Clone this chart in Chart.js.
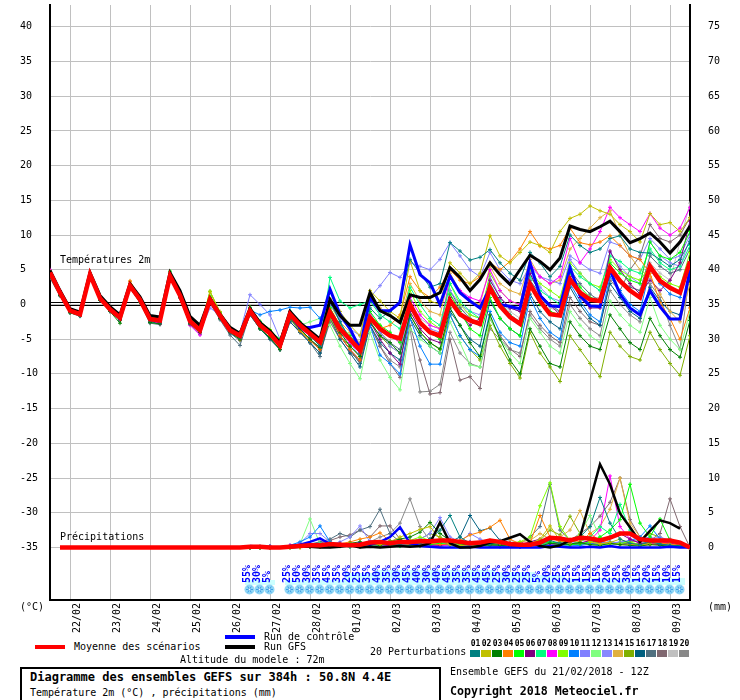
<!DOCTYPE html>
<html><head><meta charset="utf-8">
<script src="https://cdn.jsdelivr.net/npm/chart.js@4.4.1/dist/chart.umd.min.js"></script>
<style>
html,body{margin:0;padding:0;background:#fff;}
#wrap{position:relative;width:740px;height:700px;overflow:hidden;font-family:"DejaVu Sans Mono",monospace;font-size:10px;color:#000;background:#fff;}
#c{position:absolute;left:0;top:0;}
.t{position:absolute;white-space:pre;line-height:1;transform:translateY(-50%);}
.sw{position:absolute;}
</style></head><body>
<div id="wrap">
<canvas id="c" width="740" height="640"></canvas>
<div class="t" style="left:20px;top:607px">(°C)</div>
<div class="t" style="left:708px;top:607px">(mm)</div>
<div class="sw" style="left:35px;top:645px;width:30px;height:4px;background:#f00"></div>
<div class="t" style="left:74px;top:647px">Moyenne des scénarios</div>
<div class="sw" style="left:225px;top:635px;width:30px;height:4px;background:#00f"></div>
<div class="t" style="left:264px;top:637px">Run de contrôle</div>
<div class="sw" style="left:225px;top:645px;width:30px;height:4px;background:#000"></div>
<div class="t" style="left:264px;top:647px">Run GFS</div>
<div class="t" style="left:180px;top:660px">Altitude du modele : 72m</div>
<div class="t" style="left:370px;top:652px">20 Perturbations</div>
<div id="legbox"></div>
<div class="sw" style="left:20px;top:667px;width:417px;height:32px;border:2px solid #000;border-bottom:none"></div>
<div class="t" style="left:30px;top:677px;font-weight:bold;font-size:12px">Diagramme des ensembles GEFS sur 384h : 50.8N 4.4E</div>
<div class="t" style="left:30px;top:693px">Température 2m (°C) , précipitations (mm)</div>
<div class="t" style="left:450px;top:672px">Ensemble GEFS du 21/02/2018 - 12Z</div>
<div class="t" style="left:450px;top:692px;font-weight:bold;font-size:11.6px">Copyright 2018 Meteociel.fr</div>
</div>
<script>
// ---------- DATA ----------
const dayLabels = ['22/02','23/02','24/02','25/02','26/02','27/02','28/02','01/03','02/03','03/03','04/03','05/03','06/03','07/03','08/03','09/03'];
const dayTickSteps = [2,6,10,14,18,22,26,30,34,38,42,46,50,54,58,62];
const tempTicks = [-35,-30,-25,-20,-15,-10,-5,0,5,10,15,20,25,30,35,40];
const precipTicks = [0,5,10,15,20,25,30,35,40,45,50,55,60,65,70,75];
const memberNames = ['01','02','03','04','05','06','07','08','09','10','11','12','13','14','15','16','17','18','19','20'];

const tempMean = [4.6,1.7,-0.9,-1.4,4.3,0.9,-0.7,-1.9,2.7,0.7,-2.1,-2.3,4.1,1.3,-2.4,-3.7,0.7,-1.6,-3.7,-4.5,
 -0.9,-3.0,-4.2,-5.9, -1.4,-3.0,-4.2,-5.4, -1.1,-3.5,-5.0,-6.6, -1.9,-3.5,-4.5,-4.9, 0.0,-2.6,-4.0,-4.5, 0.6,-1.4,-2.3,-2.8, 2.4,-0.2,-1.8,-2.8, 2.9,0.5,-1.4,-1.6, 3.6,1.7,0.7,0.5, 5.3,3.4,2.0,1.0, 5.5,3.4,2.4,1.7, 6.2];
const tempControl = [4.5,1.7,-0.9,-1.4,4.4,0.9,-0.7,-1.9,2.7,0.7,-2.1,-2.3,4.1,1.3,-2.4,-3.7,0.7,-1.6,-3.7,-4.5,
 -0.8,-3.0,-4.0,-5.5, -1.5,-3.3,-3.3,-3.0, 2.2,-1.4,-3.5,-6.4, 1.0,-0.9,-0.9,0.3, 8.6,4.3,3.1,0.0, 4.1,1.7,0.5,-0.5, 2.4,0.0,-0.3,-0.6, 6.0,1.3,-0.2,-0.3, 5.3,1.3,-0.2,-0.3, 5.0,1.5,-0.5,-1.5, 2.0,-0.3,-2.1,-2.1, 5.0];
const tempGFS = [4.9,2.0,-0.6,-1.1,4.6,1.3,-0.3,-1.5,3.0,1.1,-1.6,-1.8,4.6,2.0,-1.7,-3.0,0.9,-1.4,-3.3,-4.2,
 -0.6,-2.6,-3.8,-5.5, -1.0,-2.6,-3.8,-5.0, 0.7,-1.6,-3.0,-3.0, 1.7,-0.9,-1.6,-2.6, 1.4,1.0,1.0,1.7, 5.3,3.9,2.0,3.6, 6.0,4.3,2.9,5.0, 7.1,6.2,5.0,6.7, 11.3,10.8,10.5,11.2, 12.0,10.5,8.9,9.5, 10.3,9.0,7.4,9.0, 11.3];

const t01 = [4.2,1.5,-1.0,-1.6,4.4,0.8,-0.9,-2.0,2.5,0.6,-2.3,-2.5,4.0,1.1,-2.6,-3.9,0.5,-1.8,-3.9,-4.8,
 -0.5,-2.5,-4.0,-5.2, -1.0,-2.8,-4.5,-6.0, 0.5,-2.5,-5.0,-7.0, -0.5,-2.0,-1.0,0.5, 6.5,4.5,2.5,3.0, 8.9,7.7,6.4,6.8, 7.9,6.0,4.5,3.5, 7.5,6.0,4.0,5.5, 10.0,8.5,7.5,8.0, 9.5,9.9,8.0,7.5, 7.4,6.5,5.5,6.5, 9.1];
const t02 = [4.8,1.9,-0.8,-1.3,4.5,1.1,-0.5,-1.7,3.0,0.9,-1.9,-2.1,4.3,1.6,-2.1,-3.4,1.8,-1.0,-3.3,-4.2,
 -0.8,-2.8,-4.0,-5.6, -1.2,-2.8,-4.0,-5.2, 0.8,-1.0,-3.0,-4.5, 2.0,0.5,-1.0,-2.0, 6.3,2.0,0.5,0.0, 6.0,4.5,3.0,4.5, 9.9,7.0,6.0,7.5, 9.0,8.5,7.5,10.5, 12.4,13.0,14.2,13.5, 13.0,11.5,10.5,9.0, 13.1,11.5,11.8,10.5, 12.5];
const t03 = [4.0,1.3,-1.2,-1.6,4.1,0.6,-1.0,-2.7,2.4,0.3,-2.6,-2.8,3.8,1.0,-2.8,-4.0,0.4,-2.0,-4.0,-5.0,
 -1.2,-3.5,-4.8,-6.5, -2.0,-3.5,-5.0,-6.2, -1.5,-4.0,-6.0,-7.5, -2.5,-4.5,-5.5,-7.0, -1.5,-4.0,-5.5,-6.4, -0.5,-3.0,-5.5,-7.5, -1.5,-5.0,-8.0,-10.0, -3.5,-6.0,-8.5,-9.0, -2.5,-4.5,-6.0,-6.5, -1.5,-3.5,-5.5,-6.5, -2.0,-4.5,-6.5,-7.6, -2.3];
const t04 = [4.5,1.7,-0.9,-1.5,4.3,0.9,-0.8,-2.0,3.4,1.0,-2.0,-2.4,4.2,1.2,-2.5,-3.8,0.6,-1.7,-3.9,-5.1,
 -1.0,-3.0,-4.5,-6.0, -1.5,-3.8,-5.2,-6.5, -1.0,-4.5,-6.5,-8.0, -2.0,-3.5,-3.0,-1.5, 4.0,2.0,1.0,2.5, 5.0,3.5,3.0,4.0, 6.0,5.0,6.2,8.0, 10.5,8.4,8.0,8.5, 11.0,8.9,8.6,9.0, 9.9,8.5,7.0,6.5, 4.5,0.3,-2.0,-5.0, -0.5];
const t05 = [4.7,1.8,-0.8,-1.3,4.4,1.0,-0.6,-1.8,2.8,0.8,-1.9,-2.0,4.8,1.7,-2.0,-3.2,1.2,-1.2,-3.4,-4.0,
 -0.5,-2.5,-3.8,-5.0, -1.0,-2.5,-4.0,-5.5, -0.5,-3.0,-4.5,-6.0, -1.0,-3.0,-4.0,-5.5, 0.5,-2.5,-4.0,-5.0, 1.5,-1.0,-3.5,-4.5, 1.0,-2.0,-3.5,-4.5, 3.0,0.0,-1.0,-1.5, 4.5,2.5,1.0,0.5, 6.0,4.5,3.5,3.0, 9.0,7.0,6.5,7.5, 10.5];
const t06 = [4.4,1.6,-1.0,-1.5,4.2,0.8,-0.8,-2.1,2.6,0.6,-2.3,-2.6,4.0,1.1,-2.6,-4.0,0.6,-1.8,-3.9,-4.7,
 -1.0,-3.2,-4.5,-6.0, -1.8,-3.5,-5.0,-6.5, -1.5,-4.5,-6.5,-8.0, -2.5,-5.0,-7.0,-8.6, -1.0,-3.5,-5.0,-5.5, 1.0,-1.5,-3.0,-2.0, 3.5,1.0,-0.5,-1.0, 4.5,1.5,0.0,-1.5, 4.0,1.0,-0.5,-0.5, 7.7,5.0,3.0,1.5, 3.5,2.0,3.5,6.0, 12.0];
const t07 = [4.6,1.8,-0.8,-1.2,4.4,1.0,-0.6,-1.7,2.9,0.9,-1.8,-2.0,4.5,1.5,-2.2,-3.5,1.0,-1.4,-3.5,-4.3,
 -0.6,-2.7,-4.0,-5.5, -1.0,-3.0,-4.0,-5.5, 3.9,0.5,-0.5,0.0, 0.5,-1.5,-2.5,-3.5, 2.5,0.0,-2.0,-3.0, 3.0,0.5,-1.0,-2.0, 3.0,0.5,-1.5,-2.5, 4.0,2.0,1.0,0.0, 5.5,4.0,3.0,2.0, 7.0,6.2,5.0,4.5, 8.0,6.0,5.0,5.5, 8.5];
const t08 = [5.0,2.0,-0.7,-1.3,4.2,0.7,-0.9,-2.0,2.8,0.5,-2.2,-2.8,4.0,1.0,-3.0,-4.4,0.3,-1.9,-4.0,-4.6,
 -1.0,-3.0,-4.5,-6.0, -1.5,-3.5,-4.5,-6.0, -1.5,-4.0,-5.5,-7.0, -1.5,-3.5,-4.5,-5.5, 1.0,-1.5,-3.0,-3.5, 4.0,2.0,1.0,0.5, 5.0,2.0,0.5,0.0, 6.0,4.0,3.0,4.0, 9.5,6.0,8.0,10.5, 14.0,12.5,11.5,10.5, 13.1,11.0,10.0,11.0, 14.0];
const t09 = [4.6,1.7,-0.9,-1.4,4.5,1.0,-0.6,-1.8,3.0,0.8,-2.0,-2.2,4.3,1.4,-2.2,-3.5,1.9,-1.2,-3.5,-4.3,
 -0.4,-2.4,-3.6,-5.2, -1.2,-3.0,-4.5,-6.0, -0.5,-3.5,-5.0,-6.5, -1.5,-3.0,-4.5,-5.0, 2.0,-1.0,-2.5,-3.5, 3.0,0.0,-1.5,-2.0, 4.5,2.0,0.5,0.0, 5.0,3.0,2.0,1.0, 6.0,4.5,3.0,2.5, 6.5,5.0,4.0,3.5, 5.5,4.0,3.0,2.5, 7.5];
const t10 = [4.3,1.5,-1.0,-1.5,4.2,0.8,-0.8,-2.0,2.6,0.6,-2.2,-2.4,4.0,1.2,-2.5,-3.8,0.5,-1.6,-3.8,-4.4,
 -0.8,-1.5,-1.0,-0.8, -0.4,-0.5,-0.4,-2.0, 0.5,-2.5,-5.0,-7.0, -3.0,-7.3,-8.5,-10.0, -2.0,-6.0,-8.6,-8.6, -1.5,-4.5,-6.5,-7.5, -1.0,-4.0,-5.5,-6.0, 1.0,-2.0,-4.0,-5.0, 3.0,0.5,-1.5,-2.5, 4.0,2.0,0.0,-1.0, 5.0,3.0,1.5,1.0, 6.0];
const t11 = [4.5,1.6,-0.9,-1.4,4.3,0.9,-0.7,-1.9,2.5,0.5,-2.2,-2.5,4.1,1.2,-2.5,-3.9,-0.5,-1.5,-3.6,-4.0,
 1.4,0.0,-1.5,-5.0, -1.5,-3.0,-4.0,-5.5, 0.0,-2.0,-3.5,-4.5, 1.0,2.7,4.6,3.9, 6.0,5.5,5.0,6.5, 8.9,7.0,5.0,4.0, 7.5,5.0,3.5,3.0, 5.5,4.0,3.5,3.0, 7.0,6.0,5.0,4.5, 9.0,8.5,7.0,6.5, 9.5,8.0,6.5,7.0, 10.0];
const t12 = [4.8,1.8,-0.8,-1.3,4.4,1.0,-0.6,-1.8,2.8,0.8,-2.0,-2.2,4.2,1.4,-2.3,-3.6,0.8,-1.5,-3.6,-4.4,
 -1.0,-3.0,-4.5,-6.0, -1.5,-3.0,-2.5,-2.0, -3.0,-6.0,-8.5,-10.7, -4.0,-8.0,-10.5,-12.3, -3.5,-5.0,-6.0,-7.0, -2.5,-5.5,-8.7,-9.0, -2.0,-5.0,-7.0,-8.5, -2.0,-4.0,-6.0,-7.0, -1.0,-3.0,-4.5,-5.5, 0.5,-1.5,-3.0,-4.0, 1.0,-3.0,-5.0,-6.5, -1.0];
const t13 = [4.4,1.6,-1.0,-1.5,4.3,0.8,-0.8,-2.0,2.6,0.6,-2.1,-2.3,4.1,1.3,-2.4,-3.7,0.7,-1.6,-3.7,-4.5,
 -0.8,-3.0,-4.2,-5.8, -1.2,-3.2,-4.5,-6.0, -1.0,-3.0,-5.5,-7.5, -1.0,-4.0,-6.0,-7.0, -0.5,-3.0,-3.5,-4.0, 2.0,0.0,-1.0,-1.5, 4.0,1.0,-0.5,-1.0, 4.5,2.5,1.0,0.5, 6.5,4.5,3.0,2.0, 7.5,5.5,4.0,3.0, 9.0,7.0,6.0,5.5, 9.5];
const t14 = [4.6,1.7,-0.9,-1.4,4.4,0.9,-0.7,-1.9,3.3,0.9,-2.0,-2.2,4.4,1.5,-2.2,-3.5,0.9,-1.4,-3.5,-4.3,
 -0.7,-2.8,-4.0,-5.5, -1.0,-3.0,-4.5,-5.8, 0.0,-2.5,-4.0,-5.5, 1.0,-0.5,-1.5,-2.5, 3.0,0.5,-1.0,-1.5, 4.5,2.0,0.5,0.0, 5.5,3.0,2.0,1.5, 6.5,4.0,3.0,3.5, 8.0,9.5,11.0,12.5, 13.5,10.0,7.0,5.0, 4.0,1.5,-1.0,-2.5, 3.0];
const t15 = [4.5,1.7,-0.9,-1.5,4.3,0.9,-0.8,-2.0,2.7,0.7,-2.0,-2.3,4.2,1.3,-2.4,-3.6,1.9,-1.3,-3.6,-4.6,
 -1.2,-3.2,-4.5,-6.2, -2.0,-3.8,-5.0,-6.5, -2.0,-4.5,-6.0,-7.5, -2.5,-4.5,-6.0,-7.0, -1.5,-4.0,-5.5,-6.5, -1.5,-4.5,-6.5,-8.0, -3.0,-6.0,-8.5,-10.6, -4.0,-7.0,-9.0,-11.1, -4.5,-6.5,-8.5,-10.4, -4.0,-6.0,-7.5,-8.0, -4.0,-6.5,-8.5,-10.2, -4.5];
const t16 = [4.1,1.4,-1.1,-1.6,4.1,0.7,-0.9,-2.2,2.4,0.4,-2.5,-2.7,3.9,1.0,-2.7,-4.1,0.3,-2.0,-4.1,-5.2,
 -1.5,-3.5,-5.0,-6.5, -2.5,-4.0,-5.5,-7.0, -2.0,-5.0,-7.0,-9.0, -3.0,-5.5,-7.0,-8.0, -2.0,-4.5,-6.0,-7.0, -1.0,-3.0,-5.0,-6.0, 0.5,-2.0,-3.5,-4.5, 1.5,-1.0,-2.5,-3.5, 2.5,0.0,-2.0,-3.0, 3.0,1.0,-1.0,-2.0, 2.5,0.5,-1.0,-1.5, 4.0];
const t17 = [3.8,1.2,-1.2,-1.7,4.0,0.6,-1.0,-2.3,2.3,0.3,-2.7,-2.9,3.8,0.9,-2.9,-4.3,0.2,-2.2,-4.4,-5.9,
 -1.3,-3.5,-4.8,-6.5, -2.0,-4.0,-5.5,-7.5, -1.5,-4.5,-6.5,-8.5, -2.0,-4.0,-5.5,-6.5, 0.5,-2.5,-4.0,-5.0, 2.0,-0.5,-2.0,-3.0, 2.5,0.0,-1.5,-2.5, 3.5,1.5,0.0,-1.0, 5.0,3.0,1.5,0.5, 5.5,3.5,2.5,2.0, 7.0,5.5,4.5,5.0, 8.0];
const t18 = [4.2,1.4,-1.1,-1.6,4.1,0.7,-0.9,-2.2,2.4,0.4,-2.4,-2.6,3.9,1.0,-2.7,-4.0,0.4,-1.9,-4.0,-5.0,
 -1.5,-3.5,-5.0,-6.5, -2.5,-4.0,-5.5,-7.0, -2.5,-5.0,-7.0,-8.0, -3.0,-6.0,-8.5,-10.5, -3.0,-8.0,-12.9,-12.7, -5.0,-10.9,-10.4,-12.1, -2.1,-4.5,-6.4,-7.5, -1.0,-3.0,-4.5,-5.5, 1.0,-1.0,-2.5,-3.0, 3.5,2.0,5.0,7.0, 11.5,9.5,9.0,10.0, 12.5];
const t19 = [4.6,1.7,-0.9,-1.4,4.3,0.9,-0.7,-1.9,2.7,0.7,-2.1,-2.3,4.1,1.3,-2.4,-3.7,0.7,-1.6,-3.7,-4.5,
 -0.9,-3.0,-4.3,-5.9, -1.4,-3.0,-4.2,-5.4, -1.0,-3.5,-5.0,-6.5, -1.5,-3.5,-4.5,-5.0, 0.5,-2.0,-3.0,-3.5, 1.5,-0.5,-1.5,-2.0, 3.0,0.5,-1.0,-2.0, 3.5,1.0,-0.5,-1.0, 4.0,2.0,1.0,1.0, 5.5,3.5,2.5,2.0, 6.0,4.5,3.5,9.0, 14.6];
const t20 = [4.3,1.5,-1.0,-1.5,4.2,0.8,-0.8,-2.1,2.5,0.5,-2.3,-2.5,4.0,1.1,-2.6,-3.9,0.5,-1.8,-3.9,-4.8,
 -1.0,-3.0,-4.5,-6.0, -1.5,-3.5,-5.0,-6.5, -1.5,-4.5,-6.5,-8.5, -3.0,-6.0,-8.0,-9.0, -3.5,-12.6,-12.5,-11.5, -4.0,-7.0,-8.5,-9.0, -3.5,-5.0,-6.5,-7.0, -1.5,-3.5,-5.0,-6.0, 0.0,-2.0,-3.5,-4.5, 2.0,0.0,-1.5,-2.5, 3.0,1.0,-3.0,-6.4, 5.0];

// precipitation (mm); mean from step 1, ensemble runs from step 20
const ensStart = 20;
const precipMean = [null,0,0,0,0,0,0,0,0,0,0,0,0,0,0,0,0,0,0,0,
 0.1,0.1,0,0, 0.1,0.2,0.3,0.3, 0.5,0.4,0.3,0.4, 0.7,0.8,0.6,0.8, 0.8,0.9,0.9,1.0, 1.0,0.8,0.6,0.7, 1.0,0.8,0.5,0.4, 0.4,0.7,1.4,1.3, 1.0,1.4,1.3,1.0, 1.4,2.0,2.0,1.2, 1.0,1.0,1.0,0.7, 0];
const precipControl = [0.2,0.1,0,null, 0.2,0.4,0.8,1.3, 0.5,0.3,0.2,0.6, 0.4,0.8,1.5,2.9, 0.6,0.2,0.1,0, 0,0,0.1,0, 0,0,0,0, 0,0,0.2,0.1, 0,0,0.1,0, 0.2,0,0,0, 0,0,0.1,0, 0];
const precipGFS = [0.1,0,0,null, 0,0.1,0.1,0, 0,0.1,0.3,0, 0.1,0,0.1,0.2, 0.1,0.2,0.6,3.6, 0.6,0,0,0.2, 0.7,0.9,1.4,1.9, 0.8,0.2,0,0.3, 1.0,1.5,6.7,12.0, 9.1,4.9,2.9,0.8, 2.4,3.9,3.5,2.7, null];
const p01 = [0,0.1,0,null, 0.1,0.2,0.3,0.2, 0.4,0.2,0.1,0.3, 0.5,0.8,0.6,0.4, 0.3,0.6,1.2,2.5, 4.6,1.5,0.6,0.3, 0.5,0.8,0.4,0.2, 0.3,0.5,1.0,0.6, 0.8,1.5,3.0,7.2, 3.5,1.2,0.6,0.4, 0.8,0.5,0.3,0.2, 0];
const p02 = [0,0,0,null, 0,0.1,0.2,0.1, 0.3,0.2,0.5,0.3, 0.6,0.4,0.8,1.5, 2.0,2.6,3.0,1.2, 0.4,0.3,0.2,0.5, 1.0,0.6,0.3,0.2, 0.5,1.2,3.1,1.0, 0.6,1.8,0.8,0.5, 0.7,1.2,0.6,0.4, 0.6,1.0,0.8,0.5, 0];
const p03 = [0,0,0.1,null, 0,0.2,0.1,0.3, 0.2,0.4,0.6,0.8, 0.5,0.3,0.9,1.2, 1.5,2.2,3.6,2.0, 1.0,0.6,0.3,0.2, 0.4,0.3,0.2,0.1, 0.3,0.2,0.6,0.4, 0.5,0.7,0.4,0.3, 0.6,0.4,0.3,0.2, 0.4,0.3,0.2,0.3, 0];
const p04 = [0,0.1,0,null, 0.1,0,0.2,0.1, 0.3,0.5,0.8,1.2, 1.5,2.1,0.9,0.6, 0.4,0.3,0.6,0.4, 0.5,1.0,1.8,2.2, 2.9,3.9,1.2,0.5, 0.6,4.6,1.5,0.8, 1.2,0.8,2.0,1.0, 0.6,0.4,0.5,0.3, 0.4,0.6,0.5,0.3, 0];
const p05 = [0,0,0,null, 0,0.1,0.2,0.4, 0.6,0.3,0.2,0.1, 0.3,0.5,0.4,0.2, 0.3,0.2,0.4,0.6, 0.8,0.5,0.3,0.2, 0.4,0.6,0.5,0.3, 0.2,0.5,0.8,0.6, 0.4,0.5,0.8,1.5, 2.5,4.0,9.1,3.5, 1.5,4.1,1.0,0.5, 0];
const p06 = [0,0,0,null, 0.1,0.2,0.1,0.3, 0.4,0.6,0.3,0.2, 0.5,0.4,0.3,0.6, 0.8,0.5,0.4,0.3, 0.6,1.0,0.8,0.5, 0.3,0.4,0.6,0.4, 0.8,1.2,0.6,0.5, 0.4,0.6,1.0,0.8, 1.5,2.0,1.2,0.6, 0.5,0.4,0.6,0.3, 0];
const p07 = [0,0,0.1,null, 0,0.2,0.4,0.5, 0.3,0.2,0.1,0.3, 0.4,0.3,0.5,0.2, 0.3,0.5,0.4,0.6, 0.4,0.3,0.5,0.3, 0.2,0.4,0.3,0.2, 0.5,0.3,0.6,0.4, 0.3,0.8,1.5,3.0, 2.0,6.2,2.5,1.0, 0.8,0.6,0.4,0.3, 0];
const p08 = [0,0.1,0.2,null, 0.3,0.4,0.2,0.4, 0.3,0.2,0.2,0.1, 0.2,0.3,0.2,0.4, 0.3,0.2,0.3,0.2, 0.4,0.3,0.2,0.2, 0.3,0.2,0.4,0.3, 0.2,0.3,0.5,0.4, 0.3,0.6,1.0,2.5, 10.3,3.0,1.2,0.6, 0.5,0.8,0.6,0.4, 0];
const p09 = [0,0,0,null, 0.1,0,0.1,0.2, 0.3,0.2,0.4,0.3, 0.2,0.4,0.6,0.5, 1.0,1.5,1.0,0.6, 0.5,0.4,0.3,0.2, 0.3,0.4,0.6,0.8, 1.5,6.0,9.3,3.0, 1.0,0.6,0.4,0.3, 0.5,0.6,0.8,0.4, 0.5,0.6,0.4,0.3, 0];
const p10 = [0,0.1,0.2,null, 0.3,0.8,1.5,3.1, 0.8,0.4,0.2,0.3, 0.2,0.4,0.3,0.2, 0.3,0.2,0.4,0.5, 0.3,0.2,0.1,0.3, 0.2,0.1,0.2,0.1, 0.3,0.2,0.4,0.3, 0.2,0.3,0.5,0.4, 0.3,0.6,1.0,1.5, 3.1,1.2,0.5,0.3, 0];
const p11 = [0,0,0.1,null, 0.2,0.6,2.0,2.0, 0.8,0.3,0.4,0.4, 1.0,0.4,0.3,0.6, 0.8,1.2,2.0,4.3, 1.5,0.8,2.0,1.2, 0.6,0.4,0.3,0.5, 0.4,0.6,0.5,0.4, 0.3,0.5,0.4,0.6, 0.8,0.6,1.0,1.2, 1.5,1.0,0.6,0.4, 0];
const p12 = [0,0,0,null, 0.1,0.5,4.1,0.5, 0.3,0.2,0.1,0.2, 0.3,0.2,0.4,0.3, 0.2,0.4,0.3,0.2, 0.4,0.3,0.2,0.3, 0.5,0.3,0.2,0.4, 0.6,0.8,1.5,1.0, 0.8,2.0,4.6,1.5, 0.8,0.5,0.4,0.3, 0.5,0.4,0.3,0.2, 0];
const p13 = [0,0,0,null, 0.1,0.3,0.5,0.3, 0.4,0.8,1.5,3.1, 0.8,0.5,0.3,0.4, 0.6,0.4,0.3,0.5, 0.4,0.6,0.8,0.5, 0.4,0.3,0.5,0.6, 0.4,0.3,0.5,0.4, 0.6,0.8,0.5,0.4, 0.6,0.8,1.0,0.8, 1.2,1.5,1.0,0.6, 0];
const p14 = [0,0,0,null, 0,0.1,0.2,0.1, 0.3,0.2,0.4,0.3, 0.5,0.6,0.4,0.8, 1.0,0.6,0.5,0.4, 0.6,0.4,0.3,0.5, 0.4,0.3,0.6,0.8, 1.0,2.0,1.2,1.5, 2.5,5.3,2.0,3.0, 5.5,10.0,3.5,1.5, 1.0,0.8,0.6,0.5, 0];
const p15 = [0,0,0,null, 0.1,0.2,0.1,0.2, 0.3,0.2,0.3,0.5, 0.6,0.4,0.3,0.5, 0.8,1.2,2.0,1.5, 0.8,0.5,0.4,0.3, 0.5,0.4,0.3,0.4, 0.6,1.0,2.5,1.8, 4.5,2.0,1.0,0.6, 0.5,0.6,0.8,1.0, 2.0,1.5,0.8,0.5, 0];
const p16 = [0,0,0,null, 0.1,0.2,0.1,0.3, 0.2,0.4,0.3,0.5, 0.4,0.6,0.8,0.5, 0.6,0.8,1.2,1.0, 0.8,1.5,4.6,2.4, 2.8,1.0,0.5,0.3, 0.4,0.6,0.4,0.3, 0.5,0.4,0.6,0.5, 0.8,0.6,0.5,0.4, 0.6,0.5,0.4,0.3, 0];
const p17 = [0,0,0.1,null, 0.2,0.3,0.5,0.8, 1.2,2.0,1.5,2.5, 3.0,5.5,2.0,0.8, 0.5,0.4,0.3,0.5, 0.6,0.4,0.3,0.5, 0.8,0.6,0.4,0.5, 1.5,3.0,9.1,2.5, 1.0,0.6,0.5,0.8, 0.6,0.5,0.4,0.6, 0.8,0.5,0.4,0.3, 0];
const p18 = [0,0,0,null, 0.1,0.2,0.4,0.6, 1.0,1.5,1.8,2.5, 1.5,3.1,3.1,1.2, 0.6,0.4,0.3,0.2, 0.4,0.3,0.5,0.4, 0.3,0.5,0.4,0.3, 0.5,0.4,0.6,0.8, 1.0,2.0,3.0,4.5, 6.5,10.0,4.0,1.5, 1.0,2.0,7.0,3.0, 0];
const p19 = [0,0,0,null, 0.1,0,0.1,0.2, 0.1,0.2,0.1,0.3, 0.2,0.1,0.2,0.3, 0.4,0.2,0.3,0.2, 0.3,0.2,0.4,0.3, 0.5,0.8,1.0,0.6, 0.4,0.3,0.5,0.4, 0.3,0.5,0.4,0.6, 0.5,0.4,0.6,0.5, 0.8,0.6,0.5,0.4, 0];
const p20 = [0,0,0,null, 0.1,0.2,0.3,0.2, 0.4,0.5,0.3,0.6, 0.8,1.5,2.0,3.5, 7.0,3.0,1.0,0.5, 0.4,0.3,0.5,0.4, 0.3,0.2,0.4,0.3, 0.5,0.4,0.6,0.5, 0.4,0.3,0.5,0.6, 0.8,0.6,0.5,0.4, 0.6,0.8,1.2,0.5, 0];

// snow probability (%) and snow cover index per step, from step 20
const snowProb = [55,30,5,null, 25,50,30,35, 45,35,20,25, 35,40,35,30, 45,40,30,40, 45,35,35,45, 45,25,30,25, 25,5,20,25, 25,15,15,15, 20,25,30,15, 20,15,10,15];
const snowCover = [1,1,1,null, 1,1,1,1, 1,1,2.4,2.4, 2.4,3,3,3, 3,3,3,3, 3,3,3,3, 3,2.6,2.6,2.6, 2.6,2,2,2, 1.4,1.4,1.4,1.4, 1.4,1.4,1.4,1.4, 1.4,1.4,1.4,1.4];

// ---------- STYLE ----------
const memberColors = ['#008080','#c0c000','#008000','#ff8000','#00ff00','#800080','#00ff80','#ff00ff','#80ff00','#0080ff','#8080ff','#80ff80','#8888ff','#e0b040','#80b000','#006080','#507080','#806870','#c0c0c0','#888888'];
const tempMembers = [t01,t02,t03,t04,t05,t06,t07,t08,t09,t10,t11,t12,t13,t14,t15,t16,t17,t18,t19,t20];
const precipMembers = [p01,p02,p03,p04,p05,p06,p07,p08,p09,p10,p11,p12,p13,p14,p15,p16,p17,p18,p19,p20];

// legend boxes
const lb = document.getElementById('legbox');
memberNames.forEach((n,k)=>{
  const x = 470 + 11*k;
  const d = document.createElement('div');
  d.className='t'; d.textContent=n;
  d.style.cssText = `left:${x}px;top:644px;width:11px;text-align:center;font-size:8px;font-weight:bold;`;
  lb.appendChild(d);
  const b = document.createElement('div');
  b.className='sw';
  b.style.cssText = `left:${x}px;top:650px;width:10px;height:7px;background:${memberColors[k]}`;
  lb.appendChild(b);
});

const pts = (arr, start) => arr.map((v,k)=>({x:start+k, y:v}));

const datasets = [];
datasets.push({data:pts(tempMean,0), borderColor:'#ff0000', borderWidth:4.5, pointRadius:0, yAxisID:'y', order:0});
datasets.push({data:pts(precipMean,0), borderColor:'#ff0000', borderWidth:4.5, pointRadius:0, yAxisID:'y2', order:0});
datasets.push({data:pts(tempGFS,0), borderColor:'#000000', borderWidth:3, pointRadius:0, yAxisID:'y', order:1});
datasets.push({data:pts(precipGFS,ensStart), borderColor:'#000000', borderWidth:2.5, pointRadius:0, yAxisID:'y2', order:1});
datasets.push({data:pts(tempControl,0), borderColor:'#0000ff', borderWidth:3, pointRadius:0, yAxisID:'y', order:2});
datasets.push({data:pts(precipControl,ensStart), borderColor:'#0000ff', borderWidth:2.5, pointRadius:0, yAxisID:'y2', order:2});
tempMembers.forEach((arr,k)=>{
  datasets.push({data:pts(arr,0), borderColor:memberColors[k], borderWidth:1, pointStyle:'cross', pointRadius:2, pointBorderColor:memberColors[k], pointBorderWidth:1, yAxisID:'y', order:3});
});
precipMembers.forEach((arr,k)=>{
  datasets.push({data:pts(arr,ensStart), borderColor:memberColors[k], borderWidth:1, pointStyle:'cross', pointRadius:2, pointBorderColor:memberColors[k], pointBorderWidth:1, yAxisID:'y2', order:3});
});

const FONT = '"DejaVu Sans Mono", monospace';

const overlay = {
  id:'overlay',
  beforeDatasetsDraw(chart){
    const {ctx, chartArea:a, scales:{x, y}} = chart;
    ctx.save();
    // double zero line
    const y0 = Math.round(y.getPixelForValue(0));
    ctx.strokeStyle = '#000'; ctx.lineWidth = 1;
    [y0-2, y0+1].forEach(yy=>{ctx.beginPath(); ctx.moveTo(a.left, yy+0.5); ctx.lineTo(a.right, yy+0.5); ctx.stroke();});
    // section titles
    ctx.fillStyle = '#000'; ctx.font = '10px ' + FONT; ctx.textBaseline = 'middle'; ctx.textAlign = 'left';
    ctx.fillText('Températures 2m', a.left + 10, y.getPixelForValue(6.4));
    ctx.fillText('Précipitations', a.left + 10, y.getPixelForValue(-33.6));
    // snow row
    const baseY = a.bottom - 15;
    snowCover.forEach((v,k)=>{
      if (v === null) return;
      const cx = x.getPixelForValue(ensStart + k);
      ctx.fillStyle = '#ccffff';
      ctx.fillRect(cx - 5, baseY - v*5, 10, v*5);
    });
    snowCover.forEach((v,k)=>{
      if (v === null) return;
      const cx = x.getPixelForValue(ensStart + k) - 0.5;
      const cy = a.bottom - 10.5;
      ctx.fillStyle = '#8fd6f6';
      ctx.beginPath(); ctx.arc(cx, cy, 5, 0, Math.PI*2); ctx.fill();
      ctx.strokeStyle = '#3d9ee6'; ctx.lineWidth = 1;
      ctx.beginPath();
      for (let j=0;j<3;j++){ const ang = j*Math.PI/3; ctx.moveTo(cx-3.5*Math.cos(ang), cy-3.5*Math.sin(ang)); ctx.lineTo(cx+3.5*Math.cos(ang), cy+3.5*Math.sin(ang)); }
      ctx.stroke();
      ctx.fillStyle = '#ffffff'; ctx.fillRect(cx-0.8, cy-0.8, 1.6, 1.6);
    });
    ctx.fillStyle = '#0000ff'; ctx.font = 'bold 10px ' + FONT; ctx.textAlign = 'left'; ctx.textBaseline = 'middle';
    snowProb.forEach((v,k)=>{
      if (v === null) return;
      const cx = x.getPixelForValue(ensStart + k) - 2.5;
      ctx.save(); ctx.translate(cx, a.bottom - 17); ctx.rotate(-Math.PI/2);
      ctx.fillText(v + '%', 0, 0); ctx.restore();
    });
    ctx.restore();
  }
};

const yTop = 40 + 22/7, yBot = yTop - 600/7;
const precipOffset = 35;
const noPadV = (s)=>{ s.paddingTop = 0; s.paddingBottom = 0; };

new Chart(document.getElementById('c'), {
  type:'line',
  data:{datasets},
  options:{
    responsive:false, animation:false,
    layout:{padding:{left:20, right:0, top:0, bottom:0}},
    plugins:{legend:{display:false}, tooltip:{enabled:false}},
    elements:{line:{tension:0}},
    spanGaps:false,
    scales:{
      x:{type:'linear', min:0, max:64, position:'bottom',
        afterBuildTicks:(s)=>{ s.ticks = dayTickSteps.map(v=>({value:v})); },
        afterFit:(s)=>{ s.height = 40; s.paddingLeft = 0; s.paddingRight = 0; },
        ticks:{autoSkip:false, minRotation:90, maxRotation:90, padding:3, labelOffset:7, color:'#000', font:{family:FONT, size:10},
          callback:(v)=>{ const k = dayTickSteps.indexOf(v); return k>=0 ? dayLabels[k] : ''; }},
        grid:{color:'#c0c0c0', lineWidth:1, drawTicks:false},
        border:{display:true, color:'#000', width:2}
      },
      y:{type:'linear', position:'left', min:yBot, max:yTop,
        afterBuildTicks:(s)=>{ s.ticks = tempTicks.map(v=>({value:v})); },
        afterFit:(s)=>{ s.width = 30; noPadV(s); },
        ticks:{crossAlign:'far', padding:0, color:'#000', font:{family:FONT, size:10}},
        grid:{color:'#c0c0c0', lineWidth:1, drawTicks:false},
        border:{display:true, color:'#000', width:2}
      },
      y2:{type:'linear', position:'right', min:yBot+precipOffset, max:yTop+precipOffset,
        afterBuildTicks:(s)=>{ s.ticks = precipTicks.map(v=>({value:v})); },
        afterFit:(s)=>{ s.width = 50; noPadV(s); },
        ticks:{crossAlign:'near', padding:18, color:'#000', font:{family:FONT, size:10}},
        grid:{display:true, drawOnChartArea:false, drawTicks:false},
        border:{display:true, color:'#000', width:2}
      }
    }
  },
  plugins:[overlay]
});
</script>
</body></html>
